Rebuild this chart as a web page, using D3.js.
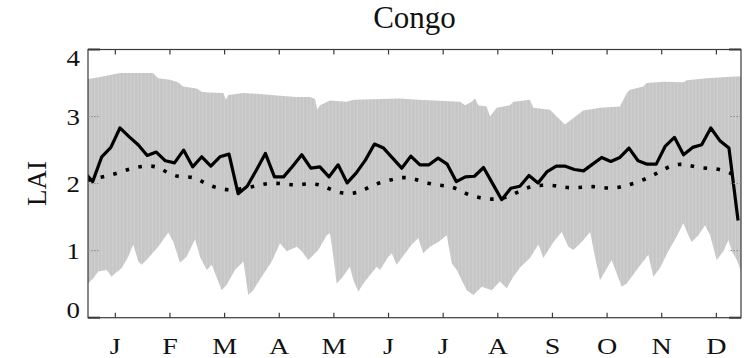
<!DOCTYPE html>
<html>
<head>
<meta charset="utf-8">
<script src="https://cdn.jsdelivr.net/npm/d3@7/dist/d3.min.js"></script>
<style>
  html, body { margin: 0; padding: 0; background: #fff; }
  svg { display: block; }
  text { font-family: "Liberation Serif", "DejaVu Serif", serif; fill: #111; }
</style>
</head>
<body>
<svg id="chart" width="747" height="358"></svg>
<script>
// Month tick labels
const months = ["J", "F", "M", "A", "M", "J", "J", "A", "S", "O", "N", "D"];
const yTicks = [0, 1, 2, 3, 4];

// Solid line: 5-day composites, first composite centred just before day 0
const solidStartDay = -2.46;
const solidStepDays = 5.06;
const solidLAI = [
  2.18, 2.03, 2.40, 2.54, 2.83, 2.70, 2.58, 2.42, 2.47, 2.34,
  2.31, 2.50, 2.25, 2.40, 2.26, 2.40, 2.44, 1.85, 1.96, 2.20,
  2.45, 2.10, 2.10, 2.26, 2.43, 2.23, 2.25, 2.10, 2.28, 2.01,
  2.16, 2.35, 2.59, 2.53, 2.38, 2.23, 2.41, 2.28, 2.28, 2.38,
  2.29, 2.03, 2.10, 2.11, 2.24, 2.00, 1.76, 1.93, 1.96, 2.12,
  2.01, 2.18, 2.26, 2.26, 2.21, 2.19, 2.29, 2.39, 2.33, 2.39,
  2.53, 2.34, 2.29, 2.29, 2.56, 2.69, 2.43, 2.54, 2.58, 2.83,
  2.64, 2.53, 1.45
];

// Dotted line (mean seasonal curve)
const meanDays = [0, 8, 15, 23, 30, 38, 44, 51, 59, 65, 72, 79, 86, 94, 101, 109, 116, 124,
  131, 138, 146, 153, 159, 167, 174, 181, 188, 196, 203, 210, 217, 225, 232, 239, 246, 253,
  261, 268, 276, 283, 291, 298, 305, 313, 319, 326, 333, 340, 348, 355, 362];
const meanLAI = [2.05, 2.10, 2.14, 2.22, 2.26, 2.27, 2.16, 2.09, 2.11, 2.00, 1.93, 1.90, 1.92, 1.97, 2.01, 2.00, 1.97, 2.01,
  1.97, 1.87, 1.84, 1.89, 1.99, 2.04, 2.10, 2.08, 2.01, 1.97, 1.96, 1.85, 1.79, 1.76, 1.78, 1.87, 1.96, 1.98,
  1.97, 1.93, 1.95, 1.96, 1.92, 1.96, 2.01, 2.10, 2.19, 2.29, 2.29, 2.23, 2.23, 2.19, 2.10];

// Grey range band: upper and lower envelopes
const upperDays = [0, 6.7, 12.2, 17.8, 36.2, 39, 45.6, 50.1, 52.9, 60.5, 63.3, 67, 75.3, 76.8, 78.1, 86.5, 93.9,
  106.9, 116.2, 123.6, 126.4, 127.6, 129.2, 134.7, 144, 147.7, 173.7, 183.9, 207.1, 209.9, 213.6, 215.4,
  217.3, 221.9, 223.8, 227.5, 234.9, 236.8, 246, 247.9, 257.2, 260.9, 265.5, 270.2, 275.7, 285, 296.1,
  299.9, 301.7, 309.1, 311, 320.3, 331.4, 333.3, 344.4, 355.5, 363.5];
const upperLAI = [3.56, 3.59, 3.62, 3.65, 3.65, 3.57, 3.55, 3.51, 3.45, 3.42, 3.37, 3.36, 3.35, 3.25, 3.32, 3.35, 3.34,
  3.31, 3.29, 3.29, 3.26, 3.10, 3.17, 3.24, 3.22, 3.25, 3.27, 3.25, 3.22, 3.17, 3.22, 3.27,
  3.17, 3.15, 3.00, 3.13, 3.17, 3.22, 3.25, 3.13, 3.10, 3.00, 2.88, 2.98, 3.09, 3.13, 3.15,
  3.35, 3.40, 3.45, 3.50, 3.52, 3.51, 3.54, 3.57, 3.59, 3.60];
const lowerDays = [0, 3, 5.7, 10.4, 13.2, 15, 18.8, 22.4, 25.2, 28, 29.9, 33.6, 39.1, 44.7, 47.5, 51.2, 54.9,
  59.6, 62.3, 66.1, 68.9, 74.4, 77.2, 81.8, 86.5, 89.2, 92, 96.7, 102.3, 106.9, 110.6, 116.2, 119,
  122.6, 128.2, 132.9, 134.7, 136.6, 138.4, 141.2, 145.8, 147.7, 150.5, 153.3, 160.7, 162.5, 167.2,
  169.1, 171.8, 174.6, 180.2, 183.9, 186.6, 190.4, 195, 199.7, 202.5, 205.3, 208.9, 210.8, 214.5,
  219.2, 224.7, 229.3, 233.1, 236.8, 240.5, 246, 250.7, 253.5, 259.1, 263.7, 267.4, 270.2, 274.8,
  279.5, 282.2, 285, 287.8, 291.5, 294.3, 297.1, 299.9, 305.4, 311.9, 314.7, 318.4, 323, 327.7,
  331.4, 334.2, 336.1, 339.8, 343.5, 346.3, 350, 353.7, 356.5, 358.4, 361.2, 363.5];
const lowerLAI = [0.51, 0.59, 0.69, 0.71, 0.61, 0.66, 0.74, 0.91, 1.09, 0.84, 0.79, 0.89, 1.06, 1.27, 1.13, 0.82, 0.91,
  1.17, 0.91, 0.71, 0.79, 0.41, 0.49, 0.71, 0.84, 0.34, 0.41, 0.61, 0.84, 1.11, 0.99, 1.06, 0.99,
  0.86, 1.01, 1.23, 1.26, 0.91, 0.51, 0.59, 0.76, 0.56, 0.39, 0.51, 0.76, 0.71, 0.91,
  0.96, 0.79, 0.89, 1.09, 1.19, 0.96, 1.06, 1.13, 1.23, 0.81, 0.71, 0.51, 0.41, 0.34,
  0.46, 0.41, 0.54, 0.44, 0.61, 0.75, 0.89, 1.09, 0.89, 1.13, 1.28, 1.06, 1.01, 1.13,
  1.28, 0.91, 0.56, 0.69, 0.86, 0.66, 0.46, 0.51, 0.71, 0.94, 0.61, 0.74, 0.99, 1.21,
  1.41, 1.23, 1.13, 1.23, 1.38, 1.23, 0.86, 0.99, 1.16, 0.99, 0.86, 0.69];

const svg = d3.select("#chart");
const margin = { left: 88, right: 6, top: 49.5, bottom: 40.3 };
const W = 747, H = 358;
const x0 = margin.left, x1 = W - margin.right;
const y0 = H - margin.bottom, y1 = margin.top;

const x = d3.scaleLinear().domain([0, 363.5]).range([x0, x1]);
const y = d3.scaleLinear().domain([0, 4]).range([y0, y1]);

const defs = svg.append("defs");
defs.append("clipPath").attr("id", "plotClip")
  .append("rect").attr("x", x0).attr("y", y1).attr("width", x1 - x0).attr("height", y0 - y1);

// Fine vertical striping inside the grey band
const pat = defs.append("pattern").attr("id", "stripes")
  .attr("patternUnits", "userSpaceOnUse").attr("width", 3.6).attr("height", 10)
  .attr("x", x0);
pat.append("rect").attr("width", 3.6).attr("height", 10).attr("fill", "#c6c6c6");
pat.append("rect").attr("x", 2.8).attr("width", 0.8).attr("height", 10).attr("fill", "#d3d3d3");

const plot = svg.append("g").attr("clip-path", "url(#plotClip)");

// Range band polygon: upper envelope left to right, lower envelope right to left
const upperPts = upperDays.map((d, i) => [x(d), y(upperLAI[i])]);
const lowerPts = lowerDays.map((d, i) => [x(d), y(lowerLAI[i])]).reverse();
plot.append("path")
  .attr("d", d3.line()(upperPts.concat(lowerPts)) + "Z")
  .attr("fill", "url(#stripes)")
  .attr("stroke", "none");

// Dotted mean curve
plot.append("path")
  .datum(meanDays.map((d, i) => [d, meanLAI[i]]))
  .attr("d", d3.line().x(d => x(d[0])).y(d => y(d[1])).curve(d3.curveBasis))
  .attr("fill", "none")
  .attr("stroke", "#000")
  .attr("stroke-width", 3.6)
  .attr("stroke-dasharray", "3.6 9.4");

// Solid 5-day series
plot.append("path")
  .datum(solidLAI.map((v, i) => [solidStartDay + i * solidStepDays, v]))
  .attr("d", d3.line().x(d => x(d[0])).y(d => y(d[1])))
  .attr("fill", "none")
  .attr("stroke", "#000")
  .attr("stroke-width", 3.2)
  .attr("stroke-linejoin", "round")
  .attr("stroke-linecap", "butt");

// Axes box
const axisColor = "#3a3a3a";
svg.append("rect")
  .attr("x", x0).attr("y", y1).attr("width", x1 - x0).attr("height", y0 - y1)
  .attr("fill", "none").attr("stroke", axisColor).attr("stroke-width", 1.2);

// Month ticks (mid-month), top and bottom, pointing inward
const monthPos = months.map((m, i) => (i + 0.5) * 365 / 12);
const xt = svg.append("g");
monthPos.forEach(d => {
  xt.append("line").attr("x1", x(d)).attr("x2", x(d)).attr("y1", y0).attr("y2", y0 - 5)
    .attr("stroke", axisColor).attr("stroke-width", 1.2);
  xt.append("line").attr("x1", x(d)).attr("x2", x(d)).attr("y1", y1).attr("y2", y1 + 5)
    .attr("stroke", axisColor).attr("stroke-width", 1.2);
});

// Month labels (slightly widened glyphs)
svg.append("g").selectAll("text").data(months).join("text")
  .attr("transform", (m, i) => `translate(${x(monthPos[i])}, 354) scale(1.22, 1)`)
  .attr("text-anchor", "middle")
  .attr("font-size", 23)
  .text(d => d);

// Y ticks: short dotted marks on both sides
const yt = svg.append("g");
yTicks.forEach(v => {
  const dash = (v === 0 || v === 4) ? null : "1.5 1.5";
  yt.append("line").attr("x1", x0).attr("x2", x0 + 12).attr("y1", y(v)).attr("y2", y(v))
    .attr("stroke", dash ? "#8a8a8a" : axisColor).attr("stroke-width", dash ? 1 : 2)
    .attr("stroke-dasharray", dash);
  yt.append("line").attr("x1", x1).attr("x2", x1 - 12).attr("y1", y(v)).attr("y2", y(v))
    .attr("stroke", dash ? "#8a8a8a" : axisColor).attr("stroke-width", dash ? 1 : 2)
    .attr("stroke-dasharray", dash);
});

// Y tick labels; end labels are kept inside the axis limits
svg.append("g").selectAll("text").data(yTicks).join("text")
  .attr("transform", v => `translate(80, ${y(v)}) scale(1.12, 1)`)
  .attr("dy", v => v === 4 ? "0.7em" : v === 0 ? "0em" : "0.35em")
  .attr("text-anchor", "end")
  .attr("font-size", 24)
  .text(d => d);

// Y axis title
svg.append("text")
  .attr("transform", `translate(46, ${(y0 + y1) / 2}) rotate(-90)`)
  .attr("text-anchor", "middle")
  .attr("font-size", 27)
  .text("LAI");

// Title
svg.append("text")
  .attr("x", (x0 + x1) / 2)
  .attr("y", 28)
  .attr("text-anchor", "middle")
  .attr("font-size", 31)
  .text("Congo");
</script>
</body>
</html>
